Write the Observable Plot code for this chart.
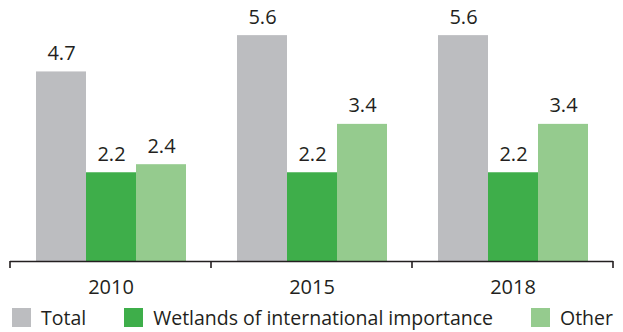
<!DOCTYPE html>
<html>
<head>
<meta charset="utf-8">
<script src="https://cdn.jsdelivr.net/npm/d3@7"></script>
<script src="https://cdn.jsdelivr.net/npm/@observablehq/plot@0.6"></script>
<style>
  html, body { margin: 0; padding: 0; background: #fff; }
  body { width: 623px; height: 332px; overflow: hidden; font-family: "Open Sans", sans-serif; color: #231f20; }
  #legend { display: flex; justify-content: space-between; align-items: center; padding: 0 10px 0 12px; height: 21px; margin-top: 2px; font-size: 19.5px; line-height: 21px; }
  .item { display: flex; align-items: center; white-space: nowrap; }
  .sw { width: 19px; height: 19px; display: inline-block; margin-right: 10px; }
</style>
</head>
<body>
<div id="chart"></div>
<div id="legend"></div>
<script>
const years = ["2010", "2015", "2018"];
const series = ["Total", "Wetlands of international importance", "Other"];
const totalValues = [4.7, 5.6, 5.6];
const wetlandValues = [2.2, 2.2, 2.2];
const otherValues = [2.4, 3.4, 3.4];
const colors = ["#bcbdc0", "#3eae4a", "#95cb8e"];

const seriesValues = [totalValues, wetlandValues, otherValues];
const data = [];
years.forEach((yr, i) => {
  series.forEach((s, j) => data.push({year: yr, series: s, value: seriesValues[j][i]}));
});

const chart = Plot.plot({
  width: 623,
  height: 305,
  marginTop: 19,
  marginBottom: 44,
  marginLeft: 10,
  marginRight: 10,
  style: {fontFamily: "Open Sans, sans-serif", fontSize: "20px", color: "#231f20", background: "#fff"},
  fx: {domain: years, padding: 0, label: null},
  x: {domain: series, paddingInner: 0, paddingOuter: 0.49, axis: null},
  y: {domain: [0, 6], axis: null},
  color: {domain: series, range: colors},
  marks: [
    Plot.barY(data, {fx: "year", x: "series", y: "value", fill: "series"}),
    Plot.text(data, {fx: "year", x: "series", y: "value", text: d => d.value.toFixed(1), lineAnchor: "bottom", dy: -12, fill: "#231f20", fontSize: 20}),
    Plot.ruleY([0], {stroke: "#231f20", strokeWidth: 1.6}),
    Plot.axisFx({anchor: "bottom", tickSize: 0, tickPadding: 18, fontSize: 20, label: null})
  ]
});
document.getElementById("chart").appendChild(chart);

// boundary tick marks placed via the chart's own scales
const fx = chart.scale("fx");
const ys = chart.scale("y");
const svg = d3.select(chart.tagName.toLowerCase() === "svg" ? chart : chart.querySelector("svg"));
const base = ys.apply(0);
const bounds = years.map(y => fx.apply(y)).concat([fx.apply(years[years.length - 1]) + fx.bandwidth]);
svg.append("g").selectAll("line").data(bounds).join("line")
  .attr("x1", d => d).attr("x2", d => d)
  .attr("y1", base).attr("y2", base + 7)
  .attr("stroke", "#231f20").attr("stroke-width", 1.6);

const legend = d3.select("#legend");
series.forEach((s, i) => {
  const it = legend.append("div").attr("class", "item");
  it.append("span").attr("class", "sw").style("background", colors[i]);
  it.append("span").text(s);
});
</script>
</body>
</html>
